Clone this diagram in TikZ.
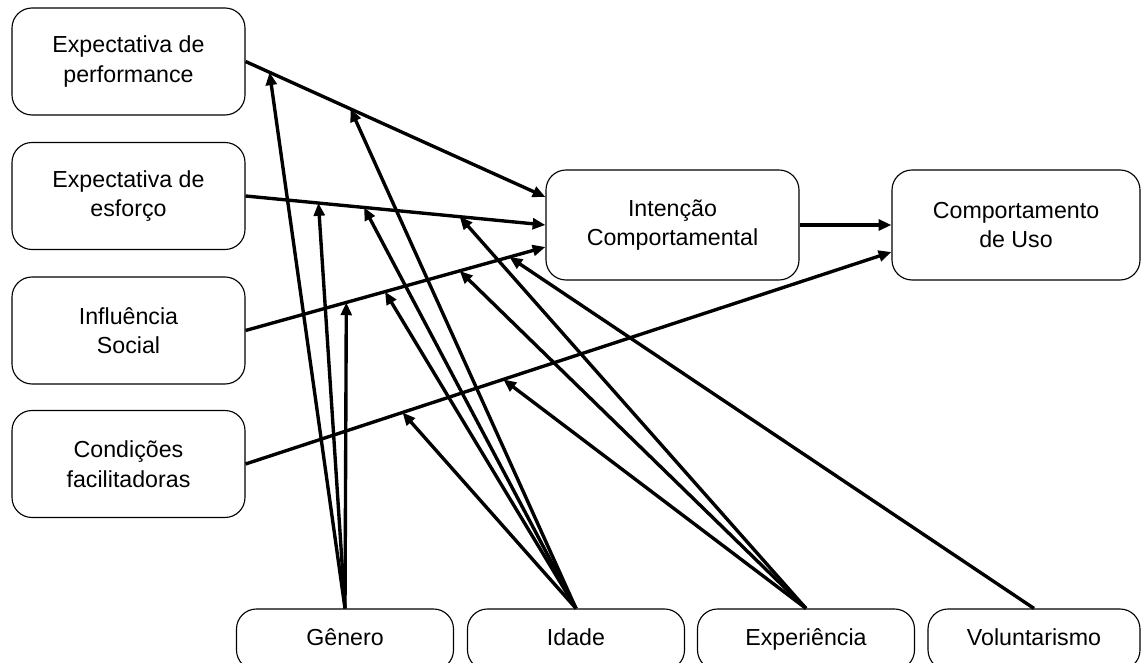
\documentclass[tikz,border=0pt]{standalone}
\usepackage{fontspec}
\setmainfont{Liberation Sans}
\usetikzlibrary{arrows.meta}
\tikzset{
    construto/.style={draw,line width=0.8pt,rounded corners=0.5cm,align=center,
        minimum width=5.825cm,minimum height=2.675cm,font=\fontsize{16.5}{21}\selectfont},
    moderador/.style={construto,minimum width=5.425cm,minimum height=1.525cm,
        text height=2.3ex,text depth=0.6ex},
    seta/.style={line width=2.4pt,-{Triangle[length=0.32cm,width=0.27cm]}}
}

\begin{document}
\begin{tikzpicture}
        \clip (0,0) rectangle (28.525,16.575);

        % construtos
        \node[construto] (EP) at (3.2125,15.0375) {Expectativa de\\performance};
        \node[construto] (EE) at (3.2125,11.675) {Expectativa de\\esforço};
        \node[construto] (IS) at (3.2125,8.3125) {Influência\\Social};
        \node[construto] (CF) at (3.2125,4.975) {Condições\\facilitadoras};
        \node[construto,minimum width=6.325cm,minimum height=2.75cm] (IC) at (16.8125,10.95) {Intenção\\Comportamental};
        \node[construto,minimum width=6.2cm,minimum height=2.75cm] (CU) at (25.4,10.95) {Comportamento\\de Uso};

        % moderadores
        \node[moderador] (GEN) at (8.625,0.5875) {Gênero};
        \node[moderador] (IDA) at (14.4,0.5875) {Idade};
        \node[moderador] (EXP) at (20.15,0.5875) {Experiência};
        \node[moderador,minimum width=5.3cm] (VOL) at (25.85,0.5875) {Voluntarismo};

        \coordinate (ic1) at ([yshift=0.7cm]IC.west);
        \coordinate (ic2) at (IC.west);
        \coordinate (ic3) at ([yshift=-0.55cm]IC.west);
        \coordinate (cu1) at ([yshift=-0.675cm]CU.west);

        % pontos sobre as setas principais
        \path (EP.east) -- (ic1) coordinate[pos=0.08] (ep1) coordinate[pos=0.35] (ep2);
        \path (EE.east) -- (ic2) coordinate[pos=0.243] (ee1) coordinate[pos=0.395] (ee2)
            coordinate[pos=0.714] (ee3);
        \path (IS.east) -- (ic3) coordinate[pos=0.336] (is1) coordinate[pos=0.465] (is2)
            coordinate[pos=0.714] (is3) coordinate[pos=0.88] (is4);
        \path (CF.east) -- (cu1) coordinate[pos=0.243] (cf1) coordinate[pos=0.399] (cf2);

        \draw[seta] (EP.east) -- (ic1);
        \draw[seta] (EE.east) -- (ic2);
        \draw[seta] (IS.east) -- (ic3);
        \draw[seta] (CF.east) -- (cu1);
        \draw[seta] (IC.east) -- (CU.west);

        \draw[seta] (GEN.north) -- (ep1);
        \draw[seta] (GEN.north) -- (ee1);
        \draw[seta] (GEN.north) -- (is1);

        \draw[seta] (IDA.north) -- (ep2);
        \draw[seta] (IDA.north) -- (ee2);
        \draw[seta] (IDA.north) -- (is2);
        \draw[seta] (IDA.north) -- (cf1);

        \draw[seta] (EXP.north) -- (ee3);
        \draw[seta] (EXP.north) -- (is3);
        \draw[seta] (EXP.north) -- (cf2);

        \draw[seta] (VOL.north) -- (is4);
\end{tikzpicture}
\end{document}
